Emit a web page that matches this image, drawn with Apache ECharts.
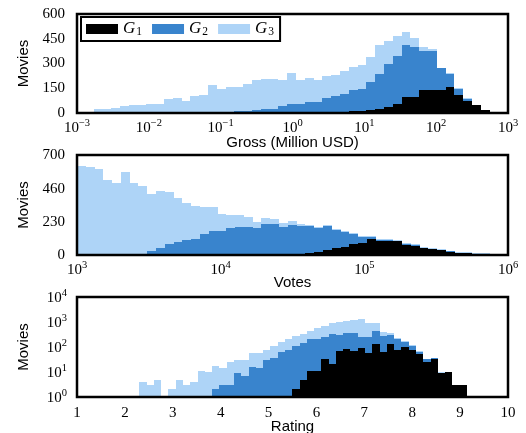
<!DOCTYPE html>
<html>
<head>
<meta charset="utf-8">
<script src="https://cdn.jsdelivr.net/npm/echarts@6/dist/echarts.min.js"></script>
<style>
html,body{margin:0;padding:0;background:#fff}
#chart{width:526px;height:433px}
</style>
</head>
<body>
<div id="chart"></div>
<script>
// groups + colours
const groups = ['G1', 'G2', 'G3'];
const colors = ['#000000', '#3984cd', '#aed4f7'];

// gross histogram, bins in log10(million USD)
const grossLo = -2.768, grossBin = 0.1225;
const grossG1 = [0,0,0,0,0,0,0,0,0,0,0,0,0,0,0,0,0,0,0,0,0,0,0,0,0,
  2,3,5,7,10,14,18,24,34,53,95,96,138,142,138,156,107,71,47,16];
const grossG2 = [0,0,0,0,0,0,0,0,0,0,0,0,0,0,0,
  8,10,15,20,26,26,41,53,53,67,65,86,100,107,128,130,168,215,260,294,316,305,239,235,132,83,41,16,2,1];
const grossG3 = [22,22,30,40,48,48,53,53,82,88,75,102,112,168,143,
  148,146,159,177,183,183,162,188,150,148,132,134,124,139,142,146,154,172,144,121,77,51,20,8,4,4,4,4,2,1];

// votes histogram, bins in log10(votes)
const votesLo = 3, votesBin = 0.06115;
const votesG1 = [0,0,0,0,0,0,0,0,0,0,0,0,0,0,0,0,0,0,0,0,0,0,0,0,0,
  5,11,22,35,47,58,75,82,110,100,100,96,68,63,47,40,33,23,14,12,8,6];
const votesG2 = [0,0,0,0,0,0,0,0,
  28,49,77,91,105,112,147,168,168,189,196,196,189,217,217,196,210,198,192,165,168,128,105,72,46,18,5,5,4,9,7,2,2,2,3,2,2,1,1];
const votesG3 = [623,616,602,525,504,581,504,483,
  399,399,364,308,259,231,189,168,119,91,84,70,42,42,35,28,28,14,7,7,5,5,5,5,5,5,5,5,5,5,5,5,5,5,2,5,5,3,5];

// rating histogram
const ratingLo = 2.3, ratingBin = 0.1521;
const ratingG1 = [0,0,0,0,0,0,0,0,0,0,0,0,0,0,0,0,0,0,0,0,0,
  2,5,11,11,33,21,69,80,69,89,59,132,65,132,76,100,76,52,26,33,9,10,3,3];
const ratingG2 = [0,0,0,0,0,0,0,0,0,0,
  2,3,3,9,7,16,15,30,38,63,76,108,136,193,206,212,312,234,275,308,156,186,307,221,171,128,64,34,13,7,2,0,0,0,0];
const ratingG3 = [4,3,5,0,2,5,3,4,11,10,15,12,22,21,23,43,44,46,72,96,133,168,192,251,346,460,564,717,755,843,1055,652,458,111,75,20,8,7,2,1,2,1,0,0,0];

// axis ticks
const grossYTicks = [0, 150, 300, 450, 600];
const votesYTicks = [0, 230, 460, 700];
const ratingYTicks = [1, 10, 100, 1000, 10000];

const serif = 'Liberation Serif';
const sans = 'Liberation Sans';

function stacked(lo, w, layers, logScale) {
  const below = layers[0].map(() => 0);
  return layers.map(counts => {
    const out = [];
    counts.forEach((c, i) => {
      let b = below[i];
      const t = below[i] + c;
      below[i] = t;
      if (logScale) b = Math.max(b, 1);
      if (t > b) out.push([lo + i * w, lo + (i + 1) * w, b, t]);
    });
    return out;
  });
}

// pixel-snapped rects so neighbouring bins don't leave seams
function renderBin(params, api) {
  const a = api.coord([api.value(0), api.value(3)]);
  const b = api.coord([api.value(1), api.value(2)]);
  const x0 = Math.round(a[0]), x1 = Math.round(b[0]);
  const y0 = Math.round(a[1]), y1 = Math.round(b[1]);
  return {
    type: 'rect',
    shape: { x: x0, y: y0, width: x1 - x0, height: y1 - y0 },
    style: { fill: api.visual('color') }
  };
}

const tickRich = {
  b: { fontFamily: serif, fontSize: 15, color: '#000', verticalAlign: 'bottom' },
  s: { fontFamily: serif, fontSize: 10.5, color: '#000', verticalAlign: 'top', padding: [0, 0, 7, 0] }
};
function pow10(k) {
  return '{b|10}{s|' + (k < 0 ? '\u2212' + (-k) : k) + '}';
}

const panels = [
  stacked(grossLo, grossBin, [grossG1, grossG2, grossG3], false),
  stacked(votesLo, votesBin, [votesG1, votesG2, votesG3], false),
  stacked(ratingLo, ratingBin, [ratingG1, ratingG2, ratingG3], true)
];

const series = [];
panels.forEach((layers, p) => {
  layers.forEach((data, g) => {
    series.push({
      type: 'custom',
      name: groups[g],
      xAxisIndex: p,
      yAxisIndex: p,
      data: data,
      encode: { x: [0, 1], y: [2, 3] },
      renderItem: renderBin,
      itemStyle: { color: colors[g] },
      clip: true,
      silent: true
    });
  });
});

const gridBase = { left: 77, right: 18, show: true, borderColor: '#000', borderWidth: 2.5,
  backgroundColor: 'transparent', z: 5, outerBoundsMode: 'none', containLabel: false };
const nameStyle = { fontFamily: sans, fontSize: 15, color: '#000' };
const hidden = { axisLine: { show: false }, axisTick: { show: false }, splitLine: { show: false }, nameMoveOverlap: false };

const chart = echarts.init(document.getElementById('chart'));
chart.setOption({
  animation: false,
  grid: [
    Object.assign({ top: 14, height: 99 }, gridBase),
    Object.assign({ top: 155, height: 100 }, gridBase),
    Object.assign({ top: 297, height: 100 }, gridBase)
  ],
  legend: {
    data: groups,
    left: 81, top: 17,
    orient: 'horizontal',
    icon: 'rect',
    itemWidth: 32, itemHeight: 10, itemGap: 10,
    padding: [3, 6, 3, 5],
    borderColor: '#000', borderWidth: 2, backgroundColor: '#fff',
    selectedMode: false,
    formatter: n => '{g|G}{n|' + n.slice(1) + '}',
    textStyle: {
      rich: {
        g: { fontFamily: serif, fontStyle: 'italic', fontSize: 17, color: '#000', verticalAlign: 'top' },
        n: { fontFamily: serif, fontSize: 11.5, color: '#000', verticalAlign: 'bottom', padding: [6, 0, 0, 1] }
      }
    }
  },
  xAxis: [
    Object.assign({
      gridIndex: 0, type: 'value', min: -3, max: 3, interval: 1,
      name: 'Gross (Million USD)', nameLocation: 'middle', nameGap: 22, nameTextStyle: nameStyle,
      axisLabel: { margin: 5, formatter: v => pow10(v), rich: tickRich }
    }, hidden),
    Object.assign({
      gridIndex: 1, type: 'value', min: 3, max: 6, interval: 1,
      name: 'Votes', nameLocation: 'middle', nameGap: 20, nameTextStyle: nameStyle,
      axisLabel: { margin: 5, formatter: v => pow10(v), rich: tickRich }
    }, hidden),
    Object.assign({
      gridIndex: 2, type: 'value', min: 1, max: 10, interval: 1,
      name: 'Rating', nameLocation: 'middle', nameGap: 22, nameTextStyle: nameStyle,
      axisLabel: { margin: 9, fontFamily: serif, fontSize: 15, color: '#000' }
    }, hidden)
  ],
  yAxis: [
    Object.assign({
      gridIndex: 0, type: 'value', min: 0, max: 600, interval: 150,
      name: 'Movies', nameLocation: 'middle', nameGap: 46, nameRotate: 90, nameTextStyle: nameStyle,
      axisLabel: { margin: 12, fontFamily: serif, fontSize: 15, color: '#000',
        formatter: v => grossYTicks.includes(v) ? String(v) : '' }
    }, hidden),
    Object.assign({
      gridIndex: 1, type: 'value', min: 0, max: 700, interval: 230,
      name: 'Movies', nameLocation: 'middle', nameGap: 46, nameRotate: 90, nameTextStyle: nameStyle,
      axisLabel: { margin: 12, fontFamily: serif, fontSize: 15, color: '#000',
        formatter: v => votesYTicks.includes(v) ? String(v) : '' }
    }, hidden),
    Object.assign({
      gridIndex: 2, type: 'log', logBase: 10, min: 1, max: 10000,
      name: 'Movies', nameLocation: 'middle', nameGap: 46, nameRotate: 90, nameTextStyle: nameStyle,
      axisLabel: { margin: 10, formatter: v => ratingYTicks.includes(Math.round(v)) ? pow10(Math.round(Math.log10(v))) : '', rich: tickRich }
    }, hidden)
  ],
  series: series
});
</script>
</body>
</html>
